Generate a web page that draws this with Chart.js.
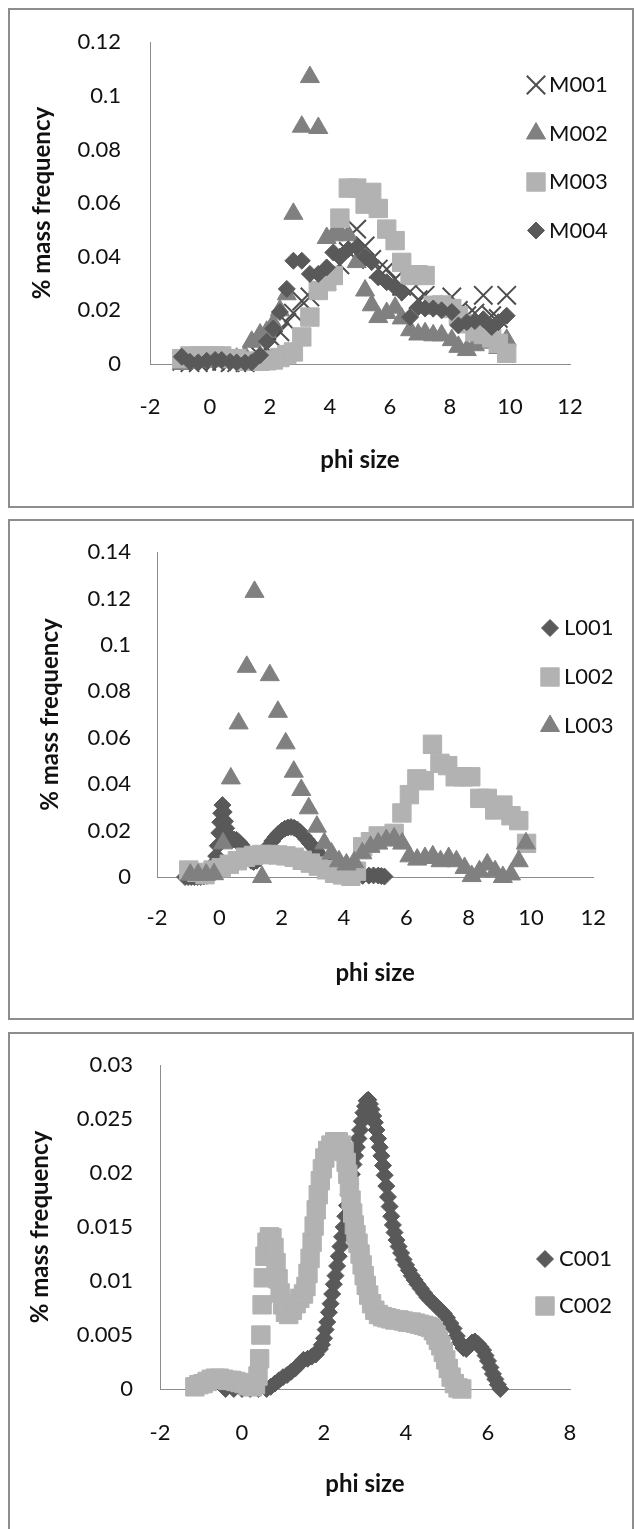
<!DOCTYPE html>
<html>
<head>
<meta charset="utf-8">
<script src="https://cdn.jsdelivr.net/npm/chart.js@4.4.1/dist/chart.umd.min.js"></script>
<style>
html, body { margin: 0; padding: 0; background: #fff; }
body { width: 634px; height: 1529px; position: relative; overflow: hidden; }
.frame { position: absolute; left: 8px; width: 626px; border: 2px solid #8d8d8d; box-sizing: border-box; }
canvas { position: absolute; left: 0; }
</style>
</head>
<body>
<div class="frame" style="top:8px;height:500px"></div>
<div class="frame" style="top:519px;height:501px"></div>
<div class="frame" style="top:1032px;height:600px"></div>
<canvas id="chartM" width="634" height="510" style="top:0px"></canvas>
<canvas id="chartL" width="634" height="510" style="top:513px"></canvas>
<canvas id="chartC" width="634" height="504" style="top:1025px"></canvas>
<script>
//Tick labels
const xTicksWide = ["-2", "0", "2", "4", "6", "8", "10", "12"];
const xTicksNarrow = ["-2", "0", "2", "4", "6", "8"];
const yTicksM = ["0", "0.02", "0.04", "0.06", "0.08", "0.1", "0.12"];
const yTicksL = ["0", "0.02", "0.04", "0.06", "0.08", "0.1", "0.12", "0.14"];
const yTicksC = ["0", "0.005", "0.01", "0.015", "0.02", "0.025", "0.03"];

//Panel 1 - M samples (shared phi bins)
const phiM = [-0.94,-0.67,-0.39,-0.11,0.17,0.39,0.67,0.89,1.17,1.39,
              1.67,1.89,2.11,2.33,2.56,2.78,3.06,3.33,3.61,3.89,
              4.11,4.33,4.61,4.89,5.17,5.39,5.61,5.89,6.17,6.39,
              6.67,6.94,7.17,7.44,7.72,8.06,8.28,8.56,8.83,9.11,
              9.39,9.61,9.89];
const massM001 = [0.001,0.0005,0.0005,0.001,0.001,0.001,0.0005,0.0005,0.0005,0.001,
                  0.003,0.006,0.009,0.012,0.0155,0.019,0.0235,0.025,0.028,0.031,
                  0.0348,0.037,0.042,0.0503,0.044,0.039,0.0354,0.0354,0.0317,0.029,
                  0.027,0.024,0.0256,0.022,0.021,0.025,0.02,0.018,0.019,0.0256,
                  0.018,0.017,0.0256];
const massM002 = [0,0.0005,0.001,0.001,0.0015,0.001,0.0015,0.002,0.003,0.0083,
                  0.011,0.012,0.015,0.02,0.026,0.056,0.0885,0.107,0.088,0.047,
                  0.048,0.049,0.048,0.038,0.0274,0.0219,0.0175,0.019,0.021,0.017,
                  0.0126,0.011,0.0115,0.0107,0.0107,0.0089,0.0064,0.0052,0.007,0.008,
                  0.008,0.006,0.009];
const massM003 = [0.002,0.003,0.003,0.003,0.003,0.003,0.002,0.002,0.001,0.001,
                  0.001,0.0012,0.0015,0.0024,0.0035,0.0045,0.0101,0.0175,0.0274,0.0307,
                  0.033,0.0544,0.0656,0.0656,0.0596,0.064,0.058,0.0503,0.046,0.0379,
                  0.033,0.0333,0.033,0.0219,0.022,0.0207,0.018,0.015,0.012,0.011,
                  0.0097,0.0077,0.004];
const massM004 = [0.0027,0.0008,0.0006,0.0012,0.0015,0.0015,0.0008,0.0006,0.0005,0.0006,
                  0.0033,0.0083,0.0132,0.0194,0.028,0.0385,0.0385,0.0336,0.0336,0.036,
                  0.0416,0.04,0.0428,0.0435,0.04,0.038,0.0323,0.0305,0.0286,0.0267,
                  0.0175,0.0212,0.0207,0.0207,0.02,0.0194,0.0144,0.0156,0.016,0.0167,
                  0.0138,0.0156,0.018];

//Panel 2 - L samples
const phiL001 = [-1.1,-1.0,-0.9,-0.8,-0.7,-0.6,-0.5,-0.4,-0.3,-0.2,
                 -0.15,-0.1,-0.05,0.0,0.03,0.06,0.1,0.14,0.18,0.22,
                 0.27,0.33,0.4,0.47,0.55,0.62,0.7,0.78,0.86,0.94,
                 1.02,1.1,1.2,1.3,1.4,1.5,1.6,1.7,1.8,1.9,
                 2.0,2.1,2.2,2.3,2.4,2.5,2.6,2.7,2.8,2.9,
                 3.0,3.1,3.2,3.3,3.4,3.5,3.6,3.7,3.8,3.9,
                 4.0,4.2,4.4,4.6,4.8,4.95,5.1,5.2,5.3];
const massL001 = [0,0,0,0,0,0,0.0002,0.0005,0.001,0.003,
                  0.006,0.009,0.0135,0.019,0.0236,0.0275,0.031,0.028,0.024,0.021,
                  0.018,0.0165,0.016,0.0162,0.016,0.0152,0.014,0.0125,0.0105,0.0085,
                  0.007,0.0065,0.007,0.008,0.0095,0.0115,0.0135,0.0155,0.0172,0.0187,
                  0.0199,0.0208,0.0213,0.0215,0.0212,0.0205,0.0193,0.0178,0.0162,0.0146,
                  0.013,0.0114,0.0098,0.0082,0.0067,0.0053,0.004,0.003,0.0022,0.0015,
                  0.001,0.0006,0.0005,0.0005,0.0006,0.0007,0.0006,0.0004,0.0002];
const phiL002 = [-0.98,-0.72,-0.46,-0.2,0.06,0.32,0.58,0.84,1.1,1.36,
                 1.62,1.88,2.14,2.4,2.66,2.92,3.18,3.44,3.7,3.96,
                 4.22,4.4,4.6,4.85,5.1,5.35,5.61,5.86,6.1,6.34,
                 6.58,6.84,7.08,7.33,7.57,7.82,8.07,8.36,8.6,8.84,
                 9.1,9.36,9.61,9.86];
const massL002 = [0.003,0.002,0.001,0.003,0.004,0.0055,0.007,0.0085,0.0093,0.0097,
                  0.0097,0.0095,0.0091,0.0085,0.0072,0.006,0.0047,0.0031,0.0016,0.0009,
                  0.0003,0.0025,0.013,0.0152,0.0177,0.0172,0.0188,0.0276,0.0355,0.0423,
                  0.0415,0.0572,0.049,0.048,0.0432,0.0432,0.0432,0.0339,0.0339,0.0289,
                  0.031,0.0264,0.0243,0.0145];
const phiL003 = [-0.93,-0.68,-0.42,-0.17,0.12,0.37,0.62,0.88,1.13,1.37,
                 1.62,1.88,2.13,2.39,2.63,2.87,3.13,3.37,3.6,3.84,
                 4.08,4.33,4.59,4.85,5.1,5.36,5.61,5.87,6.1,6.35,
                 6.6,6.85,7.1,7.36,7.61,7.87,8.1,8.35,8.6,8.85,
                 9.1,9.36,9.61,9.84];
const massL003 = [0.001,0.001,0.001,0.0012,0.0145,0.0425,0.0662,0.0906,0.1229,0.0,
                  0.087,0.0712,0.0576,0.0454,0.0375,0.0296,0.0217,0.0145,0.0101,0.0068,
                  0.0054,0.0064,0.0102,0.013,0.0144,0.0159,0.0166,0.0144,0.0089,0.0075,
                  0.0082,0.0089,0.0068,0.0082,0.0068,0.0039,0.0004,0.0025,0.0054,0.0025,
                  0.0,0.0011,0.0068,0.0145];

//Panel 3 - C samples
const phiC001 = [-0.4,-0.2,0.0,0.2,0.4,0.6,0.7,0.8,0.9,1.0,
                 1.1,1.2,1.3,1.4,1.5,1.6,1.7,1.8,1.9,1.95,
                 2.0,2.04,2.08,2.12,2.16,2.2,2.24,2.28,2.32,2.36,
                 2.4,2.44,2.48,2.52,2.56,2.6,2.64,2.68,2.72,2.76,
                 2.8,2.84,2.88,2.92,2.96,3.0,3.04,3.08,3.12,3.16,
                 3.2,3.24,3.28,3.32,3.36,3.4,3.44,3.48,3.52,3.56,
                 3.6,3.64,3.68,3.72,3.77,3.82,3.88,3.94,4.0,4.07,
                 4.14,4.21,4.28,4.36,4.44,4.52,4.6,4.68,4.76,4.84,
                 4.92,5.0,5.08,5.16,5.24,5.32,5.4,5.47,5.54,5.61,
                 5.68,5.75,5.82,5.88,5.94,6.0,6.06,6.12,6.18,6.24,
                 6.3];
const massC001 = [0,0,0,0,0,0,0.0002,0.0005,0.0008,0.0011,
                  0.0013,0.0016,0.0019,0.0023,0.0027,0.0028,0.003,0.0032,0.0037,0.0041,
                  0.0047,0.0055,0.0062,0.0071,0.0079,0.0088,0.0097,0.0105,0.0114,0.0123,
                  0.0132,0.0141,0.015,0.016,0.017,0.018,0.019,0.0199,0.0208,0.0216,
                  0.0224,0.0232,0.024,0.0248,0.0256,0.0262,0.0267,0.0268,0.0264,0.0259,
                  0.0253,0.0247,0.024,0.0232,0.0224,0.0216,0.0207,0.0198,0.0188,0.0178,
                  0.0169,0.016,0.0152,0.0145,0.0138,0.0132,0.0126,0.012,0.0115,0.011,
                  0.0105,0.0101,0.0097,0.0093,0.0089,0.0085,0.0082,0.0079,0.0076,0.0073,
                  0.007,0.0066,0.0061,0.0056,0.0049,0.0043,0.0038,0.0037,0.004,0.0043,
                  0.0044,0.0042,0.0039,0.0036,0.0031,0.0026,0.002,0.0014,0.0009,0.0004,
                  0.0];
const phiC002 = [-1.15,-1.05,-0.95,-0.85,-0.75,-0.65,-0.55,-0.45,-0.35,-0.25,
                 -0.15,-0.05,0.05,0.15,0.25,0.33,0.39,0.43,0.46,0.49,
                 0.52,0.56,0.61,0.67,0.73,0.78,0.83,0.88,0.93,0.99,
                 1.06,1.14,1.23,1.32,1.41,1.5,1.56,1.61,1.66,1.71,
                 1.76,1.81,1.86,1.91,1.96,2.02,2.09,2.17,2.26,2.35,
                 2.43,2.49,2.54,2.58,2.62,2.66,2.7,2.74,2.78,2.83,
                 2.88,2.93,2.98,3.03,3.09,3.16,3.24,3.33,3.43,3.53,
                 3.63,3.73,3.83,3.93,4.03,4.13,4.23,4.33,4.43,4.52,
                 4.6,4.67,4.73,4.79,4.85,4.91,4.97,5.03,5.1,5.18,
                 5.27,5.36];
const massC002 = [0.0002,0.0004,0.0005,0.0007,0.0009,0.001,0.001,0.0009,0.0008,0.0008,
                  0.0007,0.0006,0.0005,0.0003,0.0002,0.0004,0.0012,0.0028,0.005,0.0078,
                  0.0103,0.0123,0.0136,0.0141,0.014,0.0131,0.0117,0.0102,0.0089,0.0078,
                  0.0071,0.0069,0.0073,0.0079,0.0084,0.0088,0.0095,0.0107,0.0121,0.0136,
                  0.0151,0.0166,0.018,0.0193,0.0204,0.0214,0.0221,0.0226,0.0229,0.0229,
                  0.0226,0.022,0.021,0.0199,0.0187,0.0175,0.0163,0.0152,0.0143,0.0135,
                  0.0125,0.0115,0.0105,0.0096,0.0087,0.0079,0.0073,0.0069,0.0067,0.0066,
                  0.0065,0.0064,0.0064,0.0063,0.0062,0.0062,0.0061,0.006,0.0059,0.0058,
                  0.0057,0.0054,0.005,0.0045,0.004,0.0034,0.0027,0.0019,0.0011,0.0005,
                  0.0001,0];

//Marker looks (Excel grey theme)
const darkGrey = "#595959";
const midGrey = "#808080";
const lightGrey = "#b2b2b2";
const axisGrey = "#8c8c8c";
const textColor = "#111111";
const fontName = "Lato, 'Open Sans', sans-serif";

//Draws a legend marker the same way Chart.js draws its points
function drawMark(ctx, style, r, x, y) {
    ctx.beginPath();
    if (style == "rectRot") {
        ctx.moveTo(x - r, y);
        ctx.lineTo(x, y - r);
        ctx.lineTo(x + r, y);
        ctx.lineTo(x, y + r);
        ctx.closePath();
        ctx.fill();
        ctx.stroke();
    } else if (style == "rect") {
        const s = r * Math.SQRT1_2;
        ctx.rect(x - s, y - s, 2 * s, 2 * s);
        ctx.fill();
        ctx.stroke();
    } else if (style == "triangle") {
        ctx.moveTo(x, y - r);
        ctx.lineTo(x + r * 0.866, y + r * 0.5);
        ctx.lineTo(x - r * 0.866, y + r * 0.5);
        ctx.closePath();
        ctx.fill();
        ctx.stroke();
    } else if (style == "crossRot") {
        const d = r * Math.SQRT1_2;
        ctx.moveTo(x - d, y - d);
        ctx.lineTo(x + d, y + d);
        ctx.moveTo(x - d, y + d);
        ctx.lineTo(x + d, y - d);
        ctx.stroke();
    }
}

//Legend to the right of the plot, like the Excel one
const sideLegend = {
    id: "sideLegend",
    afterDraw(chart, args, opts) {
        const ctx = chart.ctx;
        ctx.save();
        chart.data.datasets.forEach((ds, i) => {
            const y = opts.top + i * opts.gap;
            ctx.fillStyle = ds.backgroundColor;
            ctx.strokeStyle = ds.borderColor;
            ctx.lineWidth = ds.pointBorderWidth;
            drawMark(ctx, ds.pointStyle, ds.pointRadius, opts.markX, y);
            ctx.fillStyle = textColor;
            ctx.font = "22px " + fontName;
            ctx.textAlign = "left";
            ctx.textBaseline = "middle";
            ctx.fillText(ds.label, opts.textX, y);
        });
        ctx.restore();
    }
};

function makeSeries(name, xs, ys, style, r, bw, color) {
    return { name: name, xs: xs, ys: ys, style: style, r: r, bw: bw, color: color };
}

function buildPanel(id, series, box) {
    const canvas = document.getElementById(id);
    const H = canvas.height;
    //Later series are drawn on top, as in Excel
    const datasets = series.map((s, i) => ({
        label: s.name,
        data: s.xs.map((x, k) => ({ x: x, y: s.ys[k] })),
        pointStyle: s.style,
        pointRadius: s.r,
        pointHoverRadius: s.r,
        pointBorderWidth: s.bw,
        backgroundColor: s.color,
        borderColor: s.color,
        order: series.length - i,
        clip: false
    }));

    new Chart(canvas, {
        type: "scatter",
        data: { datasets: datasets },
        options: {
            responsive: false,
            animation: false,
            devicePixelRatio: 1,
            events: [],
            layout: { padding: { left: 0, top: 39, right: 634 - box.right, bottom: 0 } },
            plugins: {
                legend: { display: false },
                tooltip: { enabled: false },
                sideLegend: box.legend
            },
            scales: {
                x: {
                    type: "linear",
                    position: "bottom",
                    min: -2,
                    max: box.xMax,
                    afterFit: (scale) => { scale.height = H - 364; },
                    ticks: {
                        stepSize: 2,
                        padding: box.xTickPad,
                        maxRotation: 0,
                        autoSkip: false,
                        color: textColor,
                        font: { family: fontName, size: 22 },
                        callback: (v, i) => box.xLabels[i]
                    },
                    grid: { display: false, drawTicks: false },
                    border: { display: true, color: axisGrey, width: 1 },
                    title: {
                        display: true,
                        text: "phi size",
                        color: textColor,
                        font: { family: fontName, size: 24, weight: "bold" },
                        padding: { top: 0, bottom: box.xTitlePad }
                    }
                },
                y: {
                    type: "linear",
                    position: "left",
                    min: 0,
                    max: box.yMax,
                    afterFit: (scale) => { scale.width = box.left; },
                    ticks: {
                        stepSize: box.yStep,
                        padding: box.yTickPad,
                        color: textColor,
                        font: { family: fontName, size: 22 },
                        callback: (v, i) => box.yLabels[i]
                    },
                    grid: { display: false, drawTicks: false },
                    border: { display: true, color: axisGrey, width: 1 },
                    title: {
                        display: true,
                        text: "% mass frequency",
                        color: textColor,
                        font: { family: fontName, size: 24, weight: "bold" },
                        padding: { top: box.yTitlePad, bottom: 0 }
                    }
                }
            }
        },
        plugins: [sideLegend]
    });
}

//Panel 1
buildPanel("chartM", [
    makeSeries("M001", phiM, massM001, "crossRot", 13, 2, "#4d4d4d"),
    makeSeries("M002", phiM, massM002, "triangle", 11, 1, midGrey),
    makeSeries("M003", phiM, massM003, "rect", 13, 1, lightGrey),
    makeSeries("M004", phiM, massM004, "rectRot", 8.5, 1, darkGrey)
], {
    left: 150, right: 570, xMax: 12, yMax: 0.12, yStep: 0.02,
    xLabels: xTicksWide, yLabels: yTicksM,
    xTickPad: 30, yTickPad: 29, xTitlePad: 35.6, yTitlePad: 27.6,
    legend: { markX: 536, textX: 549, top: 85, gap: 48.5 }
});

//Panel 2
buildPanel("chartL", [
    makeSeries("L001", phiL001, massL001, "rectRot", 8.5, 1, darkGrey),
    makeSeries("L002", phiL002, massL002, "rect", 13, 1, lightGrey),
    makeSeries("L003", phiL003, massL003, "triangle", 11, 1, midGrey)
], {
    left: 157, right: 613, xMax: 12, yMax: 0.14, yStep: 0.02,
    xLabels: xTicksWide, yLabels: yTicksL,
    xTickPad: 28, yTickPad: 26, xTitlePad: 35.6, yTitlePad: 35.6,
    legend: { markX: 550, textX: 564, top: 115, gap: 49 }
});

//Panel 3
buildPanel("chartC", [
    makeSeries("C001", phiC001, massC001, "rectRot", 8.5, 1, darkGrey),
    makeSeries("C002", phiC002, massC002, "rect", 13, 1, lightGrey)
], {
    left: 160, right: 570, xMax: 8, yMax: 0.03, yStep: 0.005,
    xLabels: xTicksNarrow, yLabels: yTicksC,
    xTickPad: 31, yTickPad: 27, xTitlePad: 30.6, yTitlePad: 25.6,
    legend: { markX: 545, textX: 559, top: 234, gap: 47 }
});
</script>
</body>
</html>
